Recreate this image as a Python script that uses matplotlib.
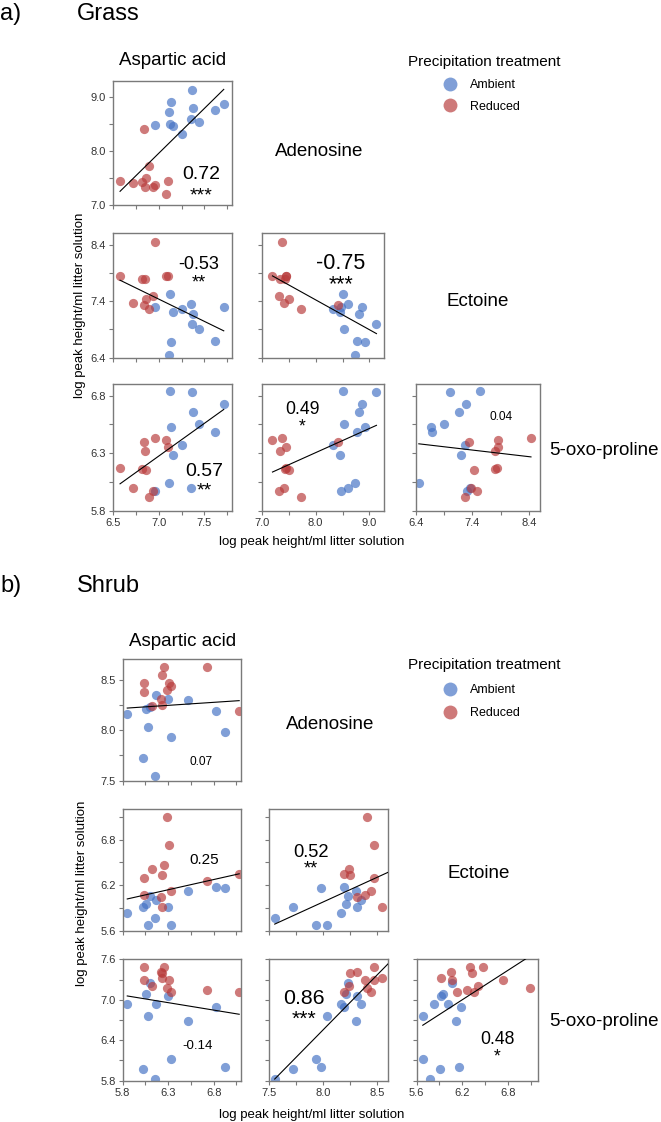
import numpy as np
import matplotlib
matplotlib.use("Agg")
import matplotlib.pyplot as plt
from matplotlib.lines import Line2D
from matplotlib.transforms import offset_copy

plt.rcParams["font.family"] = ["Liberation Sans", "DejaVu Sans"]

W, H = 661, 1122

compounds = ["Aspartic acid", "Adenosine", "Ectoine", "5-oxo-proline"]
treatments = ["Ambient", "Reduced"]
colors = ["#4472C4", "#B83B3B"]

# ---- Grass, ambient plots (log peak height) ----
grass_amb_asp = [7.36, 7.14, 7.11, 7.37, 7.61, 7.71, 7.35, 7.44, 7.12, 7.16, 7.25, 6.96]
grass_amb_aden = [9.13, 8.91, 8.73, 8.80, 8.76, 8.87, 8.60, 8.53, 8.50, 8.46, 8.32, 8.48]
grass_amb_ect = [7.00, 6.67, 6.45, 7.17, 6.69, 7.29, 7.35, 6.90, 7.53, 7.20, 7.27, 7.30]
grass_amb_oxo = [6.83, 6.53, 6.04, 6.66, 6.48, 6.73, 6.00, 6.55, 6.84, 6.28, 6.37, 5.97]

# ---- Grass, reduced plots ----
grass_red_asp = [6.58, 6.72, 6.82, 6.85, 6.86, 6.90, 6.94, 6.96, 7.10, 7.08, 6.84]
grass_red_aden = [7.45, 7.41, 7.43, 7.34, 7.51, 7.73, 7.33, 7.38, 7.45, 7.20, 8.41]
grass_red_ect = [7.84, 7.37, 7.80, 7.80, 7.43, 7.27, 7.49, 8.44, 7.85, 7.85, 7.34]
grass_red_oxo = [6.17, 6.00, 6.16, 6.32, 6.15, 5.92, 5.97, 6.43, 6.35, 6.41, 6.40]

# ---- Shrub, ambient plots ----
shrub_amb_asp = [5.85, 6.055, 6.10, 6.165, 6.08, 6.02, 6.155, 6.30, 6.335, 6.52, 6.82, 6.92]
shrub_amb_aden = [8.16, 8.205, 8.225, 8.345, 8.03, 7.72, 7.55, 8.31, 7.93, 8.30, 8.19, 7.98]
shrub_amb_ect = [5.83, 5.95, 6.06, 6.01, 5.68, 5.91, 5.77, 5.92, 5.68, 6.12, 6.18, 6.16]
shrub_amb_oxo = [6.93, 7.09, 7.25, 6.94, 6.76, 5.97, 5.83, 7.06, 6.12, 6.69, 6.89, 6.01]

# ---- Shrub, reduced plots ----
shrub_red_asp = [6.25, 6.73, 6.235, 6.035, 6.03, 6.31, 6.335, 6.285, 6.225, 6.23, 6.125, 7.08]
shrub_red_aden = [8.62, 8.62, 8.54, 8.47, 8.38, 8.47, 8.44, 8.40, 8.31, 8.25, 8.24, 8.19]
shrub_red_ect = [6.47, 6.26, 5.92, 6.30, 6.07, 6.73, 6.13, 7.09, 6.05, 6.33, 6.41, 6.35]
shrub_red_oxo = [7.49, 7.145, 7.32, 7.48, 7.29, 7.30, 7.11, 7.17, 7.41, 7.40, 7.20, 7.12]

# Pearson r and significance, panel order (1,0) (2,0) (2,1) (3,0) (3,1) (3,2)
grass_r = ["0.72", "-0.53", "-0.75", "0.57", "0.49", "0.04"]
grass_sig = ["***", "**", "***", "**", "*", ""]
shrub_r = ["0.07", "0.25", "0.52", "-0.14", "0.86", "0.48"]
shrub_sig = ["", "", "**", "", "***", "*"]

# axis ranges: (min, max, major step, minor step); x per column, y per row
grass_x_axes = [(6.5, 7.8, 0.5, 0.25), (7.0, 9.27, 1.0, 0.5), (6.4, 8.6, 1.0, 0.5)]
grass_y_axes = [(7.0, 9.3, 1.0, 0.5), (6.4, 8.6, 1.0, 0.5), (5.8, 6.9, 0.5, 0.25)]
shrub_x_axes = [(5.8, 7.1, 0.5, 0.25), (7.5, 8.6, 0.5, 0.25), (5.6, 7.2, 0.6, 0.3)]
shrub_y_axes = [(7.5, 8.7, 0.5, 0.25), (5.6, 7.2, 0.6, 0.3), (5.8, 7.6, 0.6, 0.3)]

# panel boxes in pixels: columns (left, right), rows (top, bottom)
grass_cols = [(112.7, 232), (261.7, 384), (416, 540)]
grass_rows = [(80.7, 205.3), (233.3, 357.7), (384, 510.7)]
shrub_cols = [(122.7, 241), (269.3, 388.3), (416.7, 538.3)]
shrub_rows = [(659.3, 780.7), (809, 931), (959.3, 1080.7)]

# r-value placement: (x frac, y frac of number, y frac of stars, fontsize)
grass_notes = [(0.74, 0.265, 0.13, 14), (0.72, 0.767, 0.651, 13), (0.646, 0.772, 0.643, 15.5),
               (0.768, 0.331, 0.205, 14), (0.332, 0.816, 0.706, 12.7), (0.683, 0.75, None, 8.6)]
shrub_notes = [(0.659, 0.162, None, 8.6), (0.687, 0.596, None, 11), (0.35, 0.664, 0.555, 13.2),
               (0.63, 0.302, None, 9.5), (0.292, 0.698, 0.563, 15.4), (0.66, 0.357, 0.245, 12.7)]

SPINE = "#7a7a7a"
TICKLBL = "#333333"


def ticks(lo, hi, step):
    return np.arange(lo, hi + 1e-6, step)


def px_rect(col, row):
    left, right = col
    top, bottom = row
    return [left / W, 1 - bottom / H, (right - left) / W, (bottom - top) / H]


def draw_habitat(fig, amb, red, x_axes, y_axes, cols, rows, r_text, sig, notes):
    k = 0
    for i in range(3):
        for j in range(i + 1):
            ax = fig.add_axes(px_rect(cols[j], rows[i]))
            xlo, xhi, xmaj, xmin_ = x_axes[j]
            ylo, yhi, ymaj, ymin_ = y_axes[i]

            for data, color in zip([amb, red], colors):
                x = np.asarray(data[j])
                y = np.asarray(data[i + 1])
                # points outside the axis range are not drawn
                keep = (x >= xlo) & (x <= xhi) & (y >= ylo) & (y <= yhi)
                ax.scatter(x[keep], y[keep], s=44, color=color, alpha=0.68,
                           linewidths=0, zorder=2)

            # least squares line over both treatments
            xa = np.concatenate([amb[j], red[j]])
            ya = np.concatenate([amb[i + 1], red[i + 1]])
            slope, icpt = np.polyfit(xa, ya, 1)
            xl = np.array([xa.min(), xa.max()])
            ax.plot(xl, slope * xl + icpt, color="black", lw=0.8, zorder=3)

            ax.set_xlim(xlo, xhi)
            ax.set_ylim(ylo, yhi)
            ax.set_xticks(ticks(xlo, xhi, xmaj))
            ax.set_xticks(ticks(xlo, xhi, xmin_), minor=True)
            ax.set_yticks(ticks(ylo, yhi, ymaj))
            ax.set_yticks(ticks(ylo, yhi, ymin_), minor=True)
            ax.xaxis.set_major_formatter("{x:.1f}")
            ax.yaxis.set_major_formatter("{x:.1f}")
            ax.tick_params(which="both", direction="out", length=3, width=0.8,
                           color=SPINE, labelsize=8, labelcolor=TICKLBL, pad=2)
            if i != 2:
                ax.tick_params(axis="x", labelbottom=False)
            if j != 0:
                ax.tick_params(axis="y", labelleft=False)
            for sp in ax.spines.values():
                sp.set_color(SPINE)
                sp.set_linewidth(1.0)

            fx, fy, fs_y, fs = notes[k]
            ax.text(fx, fy, r_text[k], ha="center", va="baseline", fontsize=fs,
                    transform=offset_copy(ax.transAxes, fig, y=-0.358 * fs, units="points"))
            if sig[k]:
                ax.text(fx, fs_y, sig[k], ha="center", va="baseline", fontsize=fs,
                        transform=offset_copy(ax.transAxes, fig, y=-0.575 * fs, units="points"))
            k += 1


def fig_text(fig, x, y, s, **kw):
    fig.text(x / W, 1 - y / H, s, **kw)


fig = plt.figure(figsize=(W / 100, H / 100), dpi=100)

grass = ([grass_amb_asp, grass_amb_aden, grass_amb_ect, grass_amb_oxo],
         [grass_red_asp, grass_red_aden, grass_red_ect, grass_red_oxo])
shrub = ([shrub_amb_asp, shrub_amb_aden, shrub_amb_ect, shrub_amb_oxo],
         [shrub_red_asp, shrub_red_aden, shrub_red_ect, shrub_red_oxo])

draw_habitat(fig, grass[0], grass[1], grass_x_axes, grass_y_axes, grass_cols, grass_rows,
             grass_r, grass_sig, grass_notes)
draw_habitat(fig, shrub[0], shrub[1], shrub_x_axes, shrub_y_axes, shrub_cols, shrub_rows,
             shrub_r, shrub_sig, shrub_notes)

# ---- headings and compound names ----
for tag, name, base in [("a)", "Grass", 20), ("b)", "Shrub", 592)]:
    fig_text(fig, 0, base, tag, fontsize=17, va="baseline", ha="left")
    fig_text(fig, 77, base, name, fontsize=17, va="baseline", ha="left")

diag_grass = [(173, 65, "center"), (275, 155.7, "left"), (447, 306, "left"), (549, 455, "left")]
diag_shrub = [(182.7, 645.7, "center"), (285.7, 728.7, "left"), (447.3, 877.7, "left"), (549.3, 1026, "left")]
for layout in (diag_grass, diag_shrub):
    for (x, y, ha), name in zip(layout, compounds):
        fig_text(fig, x, y, name, fontsize=13.5, va="baseline", ha=ha)

# ---- axis labels ----
axis_label = "log peak height/ml litter solution"
for xl_y, yl_x, yl_y in [(542, 80, 305), (1115, 82, 893)]:
    fig_text(fig, 312, xl_y, axis_label, fontsize=9.5, ha="center", va="center")
    fig_text(fig, yl_x, yl_y, axis_label, fontsize=9.5, ha="center", va="center", rotation=90)

# ---- legends: title as text, entries as a legend without frame ----
handles = [Line2D([], [], ls="none", marker="o", markersize=10, markeredgewidth=0,
                  color=c, alpha=0.68) for c in colors]
for title_y, first_row, spacing in [(62, 83, 0.74), (665, 688, 0.9)]:
    fig_text(fig, 408, title_y, "Precipitation treatment", fontsize=11, ha="left", va="center")
    fig.legend(handles, treatments, loc="upper left",
               bbox_to_anchor=(436.5 / W, 1 - (first_row - 10) / H), frameon=False,
               fontsize=9, borderpad=0, labelspacing=spacing, handletextpad=1.0,
               handlelength=1.2)

fig.savefig("out.png", dpi=100)
